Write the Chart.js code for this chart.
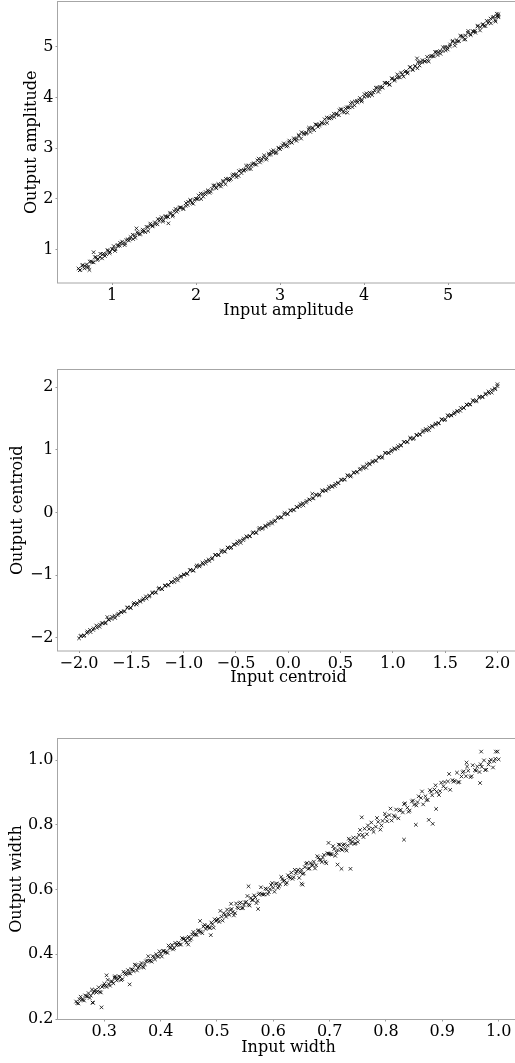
<!DOCTYPE html>
<html><head><meta charset="utf-8">
<script src="https://cdn.jsdelivr.net/npm/chart.js@4/dist/chart.umd.min.js"></script>
<style>
html,body{margin:0;padding:0;background:#fff;overflow:hidden;width:515px;height:1063px;position:relative;}
canvas{position:absolute;left:0;}
</style></head><body>
<canvas id="c1" width="525" height="350" style="top:-20px"></canvas>
<canvas id="c2" width="525" height="350" style="top:340px"></canvas>
<canvas id="c3" width="525" height="363" style="top:700px"></canvas>
<script>
// ---------- Data ----------
const ampXTicks = [1, 2, 3, 4, 5];
const ampYTicks = [1, 2, 3, 4, 5];
const ampIn = [0.60,0.62,0.65,0.67,0.70,0.72,0.73,0.75,0.78,0.78,0.81,0.83,0.86,0.88,0.90,0.93,0.95,0.97,1.00,1.02,1.04,1.07,1.09,1.12,1.15,1.17,1.20,1.22,1.25,1.27,1.29,1.30,1.33,1.36,1.38,1.41,1.43,1.46,1.48,1.51,1.54,1.56,1.59,1.61,1.64,1.67,1.66,1.69,1.72,1.74,1.77,1.80,1.82,1.85,1.88,1.90,1.93,1.95,1.98,2.01,2.03,2.06,2.08,2.11,2.14,2.16,2.19,2.22,2.24,2.27,2.30,2.32,2.35,2.38,2.40,2.43,2.46,2.48,2.51,2.54,2.57,2.59,2.62,2.65,2.67,2.70,2.73,2.76,2.78,2.81,2.84,2.87,2.89,2.92,2.95,2.98,3.00,3.03,3.06,3.09,3.11,3.14,3.17,3.20,3.22,3.25,3.28,3.31,3.34,3.36,3.39,3.42,3.45,3.47,3.50,3.53,3.56,3.58,3.61,3.64,3.67,3.70,3.72,3.75,3.78,3.80,3.81,3.84,3.86,3.89,3.92,3.95,3.97,4.00,4.03,4.06,4.08,4.11,4.14,4.17,4.19,4.22,4.25,4.28,4.30,4.33,4.36,4.39,4.41,4.44,4.47,4.50,4.52,4.55,4.58,4.61,4.63,4.64,4.66,4.69,4.72,4.75,4.77,4.80,4.83,4.86,4.88,4.91,4.94,4.97,4.99,5.02,5.05,5.08,5.10,5.13,5.16,5.19,5.21,5.24,5.27,5.30,5.32,5.35,5.38,5.41,5.43,5.46,5.49,5.51,5.54,5.56,5.58,5.60,5.60];
const ampOut = [0.63,0.60,0.70,0.63,0.71,0.66,0.60,0.77,0.95,0.75,0.85,0.82,0.92,0.83,0.92,0.91,0.98,0.93,1.01,1.07,1.01,1.07,1.08,1.16,1.09,1.19,1.18,1.25,1.21,1.28,1.42,1.35,1.30,1.36,1.37,1.45,1.37,1.48,1.46,1.54,1.50,1.57,1.64,1.58,1.64,1.52,1.65,1.73,1.66,1.76,1.75,1.83,1.83,1.80,1.92,1.88,1.98,1.92,1.98,2.00,2.07,2.00,2.10,2.09,2.17,2.12,2.20,2.27,2.21,2.27,2.29,2.36,2.29,2.40,2.38,2.46,2.47,2.43,2.55,2.51,2.57,2.58,2.66,2.59,2.69,2.68,2.76,2.72,2.79,2.86,2.81,2.87,2.88,2.96,2.90,3.00,2.98,3.06,3.07,3.05,3.15,3.11,3.17,3.19,3.26,3.19,3.30,3.29,3.37,3.32,3.40,3.47,3.42,3.47,3.49,3.57,3.50,3.60,3.59,3.68,3.68,3.65,3.77,3.72,3.78,3.70,3.80,3.88,3.81,3.92,3.90,3.99,3.92,4.01,4.08,4.03,4.08,4.10,4.19,4.11,4.21,4.20,4.29,4.29,4.25,4.38,4.33,4.39,4.40,4.49,4.41,4.52,4.50,4.60,4.54,4.62,4.77,4.70,4.63,4.69,4.71,4.80,4.71,4.82,4.81,4.90,4.89,4.86,4.99,4.93,4.99,5.01,5.10,5.02,5.13,5.11,5.21,5.14,5.22,5.31,5.23,5.30,5.31,5.40,5.32,5.43,5.41,5.51,5.50,5.46,5.59,5.52,5.60,5.64,5.58];
const ampIn2 = [0.615,0.645,0.675,0.705,0.735,0.765,0.795,0.825,0.855,0.885,0.915,0.945,0.975,1.005,1.035,1.065,1.095,1.125,1.155,1.185,1.215,1.245,1.275,1.305,1.335,1.365,1.395,1.425,1.455,1.485,1.515,1.545,1.575,1.605,1.635,1.665,1.695,1.725,1.755,1.785,1.815,1.845,1.875,1.905,1.935,1.965,1.995,2.025,2.055,2.085,2.115,2.145,2.175,2.205,2.235,2.265,2.295,2.325,2.355,2.385,2.415,2.445,2.475,2.505,2.535,2.565,2.595,2.625,2.655,2.685,2.715,2.745,2.775,2.805,2.835,2.865,2.895,2.925,2.955,2.985,3.015,3.045,3.075,3.105,3.135,3.165,3.195,3.225,3.255,3.285,3.315,3.345,3.375,3.405,3.435,3.465,3.495,3.525,3.555,3.585,3.615,3.645,3.675,3.705,3.735,3.765,3.795,3.825,3.855,3.885,3.915,3.945,3.975,4.005,4.035,4.065,4.095,4.125,4.155,4.185,4.215,4.245,4.275,4.305,4.335,4.365,4.395,4.425,4.455,4.485,4.515,4.545,4.575,4.605,4.635,4.665,4.695,4.725,4.755,4.785,4.815,4.845,4.875,4.905,4.935,4.965,4.995,5.025,5.055,5.085,5.115,5.145,5.175,5.205,5.235,5.265,5.295,5.325,5.355,5.385,5.415,5.445,5.475,5.505,5.535,5.565,5.595,5.580];
const ampOut2 = [0.595,0.685,0.685,0.655,0.765,0.755,0.855,0.795,0.855,0.905,0.875,0.995,0.955,1.015,0.975,1.095,1.135,1.115,1.125,1.205,1.215,1.295,1.235,1.315,1.315,1.395,1.345,1.445,1.515,1.475,1.505,1.605,1.595,1.555,1.665,1.645,1.705,1.685,1.805,1.785,1.835,1.815,1.865,1.945,1.965,1.905,2.005,2.005,2.105,2.045,2.135,2.145,2.145,2.265,2.225,2.295,2.245,2.335,2.395,2.365,2.395,2.485,2.485,2.455,2.565,2.555,2.655,2.595,2.655,2.705,2.675,2.795,2.755,2.815,2.775,2.895,2.935,2.915,2.925,3.005,3.015,3.095,3.035,3.115,3.115,3.195,3.145,3.245,3.315,3.275,3.305,3.405,3.395,3.355,3.465,3.445,3.505,3.485,3.605,3.585,3.635,3.615,3.665,3.745,3.765,3.705,3.805,3.805,3.905,3.845,3.935,3.945,3.945,4.065,4.025,4.095,4.045,4.135,4.195,4.165,4.195,4.285,4.285,4.255,4.365,4.355,4.455,4.395,4.455,4.505,4.475,4.595,4.555,4.615,4.575,4.695,4.735,4.715,4.725,4.805,4.815,4.895,4.835,4.915,4.915,4.995,4.945,5.045,5.115,5.075,5.105,5.215,5.195,5.145,5.275,5.245,5.305,5.275,5.415,5.385,5.445,5.405,5.465,5.555,5.575,5.495,5.605,5.650];

const cenXTicks = [-2, -1.5, -1, -0.5, 0, 0.5, 1, 1.5, 2];
const cenYTicks = [-2, -1, 0, 1, 2];
const cenIn = [-2.00,-1.98,-1.95,-1.92,-1.89,-1.86,-1.83,-1.80,-1.78,-1.75,-1.73,-1.72,-1.69,-1.66,-1.63,-1.60,-1.57,-1.54,-1.51,-1.48,-1.45,-1.42,-1.39,-1.36,-1.33,-1.30,-1.27,-1.24,-1.21,-1.18,-1.15,-1.12,-1.09,-1.06,-1.03,-1.00,-0.97,-0.94,-0.91,-0.88,-0.85,-0.82,-0.79,-0.76,-0.73,-0.70,-0.67,-0.64,-0.61,-0.58,-0.55,-0.52,-0.49,-0.46,-0.43,-0.40,-0.37,-0.34,-0.31,-0.28,-0.25,-0.22,-0.19,-0.16,-0.13,-0.10,-0.07,-0.04,-0.01,0.02,0.05,0.08,0.11,0.14,0.17,0.20,0.23,0.24,0.27,0.30,0.33,0.36,0.39,0.42,0.45,0.48,0.51,0.54,0.57,0.60,0.63,0.66,0.69,0.72,0.75,0.78,0.81,0.84,0.87,0.90,0.93,0.96,0.99,1.02,1.05,1.08,1.11,1.14,1.17,1.20,1.23,1.26,1.29,1.32,1.35,1.38,1.41,1.44,1.47,1.50,1.53,1.56,1.59,1.62,1.65,1.68,1.71,1.74,1.77,1.80,1.83,1.86,1.89,1.92,1.95,1.98,2.00,2.00];
const cenOut = [-2.01,-1.97,-1.96,-1.90,-1.91,-1.85,-1.84,-1.79,-1.77,-1.77,-1.67,-1.71,-1.70,-1.65,-1.64,-1.59,-1.58,-1.52,-1.52,-1.47,-1.47,-1.41,-1.40,-1.34,-1.34,-1.29,-1.28,-1.22,-1.22,-1.17,-1.16,-1.11,-1.11,-1.05,-1.03,-0.99,-0.98,-0.92,-0.93,-0.87,-0.86,-0.80,-0.81,-0.75,-0.74,-0.68,-0.68,-0.63,-0.62,-0.56,-0.57,-0.51,-0.50,-0.45,-0.44,-0.38,-0.38,-0.33,-0.32,-0.27,-0.26,-0.21,-0.20,-0.15,-0.14,-0.09,-0.08,-0.03,-0.02,0.03,0.04,0.09,0.10,0.15,0.16,0.21,0.30,0.23,0.28,0.29,0.34,0.35,0.41,0.41,0.46,0.47,0.52,0.53,0.59,0.59,0.64,0.65,0.70,0.71,0.77,0.77,0.82,0.83,0.88,0.89,0.95,0.95,1.00,1.01,1.06,1.07,1.13,1.13,1.18,1.19,1.24,1.25,1.31,1.31,1.36,1.37,1.42,1.43,1.49,1.49,1.54,1.55,1.60,1.61,1.67,1.67,1.72,1.73,1.78,1.79,1.85,1.85,1.90,1.91,1.96,1.97,2.02,2.05];
const cenIn2 = [-1.985,-1.955,-1.925,-1.895,-1.865,-1.835,-1.805,-1.775,-1.745,-1.715,-1.685,-1.655,-1.625,-1.595,-1.565,-1.535,-1.505,-1.475,-1.445,-1.415,-1.385,-1.355,-1.325,-1.295,-1.265,-1.235,-1.205,-1.175,-1.145,-1.115,-1.085,-1.055,-1.025,-0.995,-0.965,-0.935,-0.905,-0.875,-0.845,-0.815,-0.785,-0.755,-0.725,-0.695,-0.665,-0.635,-0.605,-0.575,-0.545,-0.515,-0.485,-0.455,-0.425,-0.395,-0.365,-0.335,-0.305,-0.275,-0.245,-0.215,-0.185,-0.155,-0.125,-0.095,-0.065,-0.035,-0.005,0.025,0.055,0.085,0.115,0.145,0.175,0.205,0.235,0.265,0.295,0.325,0.355,0.385,0.415,0.445,0.475,0.505,0.535,0.565,0.595,0.625,0.655,0.685,0.715,0.745,0.775,0.805,0.835,0.865,0.895,0.925,0.955,0.985,1.015,1.045,1.075,1.105,1.135,1.165,1.195,1.225,1.255,1.285,1.315,1.345,1.375,1.405,1.435,1.465,1.495,1.525,1.555,1.585,1.615,1.645,1.675,1.705,1.735,1.765,1.795,1.825,1.855,1.885,1.915,1.945,1.975];
const cenOut2 = [-1.975,-1.975,-1.925,-1.875,-1.875,-1.805,-1.825,-1.765,-1.755,-1.715,-1.665,-1.685,-1.615,-1.595,-1.575,-1.515,-1.525,-1.445,-1.445,-1.425,-1.375,-1.375,-1.325,-1.275,-1.275,-1.205,-1.225,-1.165,-1.155,-1.115,-1.065,-1.085,-1.015,-0.995,-0.975,-0.915,-0.925,-0.845,-0.845,-0.825,-0.775,-0.775,-0.725,-0.675,-0.675,-0.605,-0.625,-0.565,-0.555,-0.515,-0.465,-0.485,-0.415,-0.395,-0.375,-0.315,-0.325,-0.245,-0.245,-0.225,-0.175,-0.175,-0.125,-0.075,-0.075,-0.005,-0.025,0.035,0.045,0.085,0.135,0.115,0.185,0.205,0.225,0.285,0.275,0.355,0.355,0.375,0.425,0.425,0.475,0.525,0.525,0.595,0.575,0.635,0.645,0.685,0.735,0.715,0.785,0.805,0.825,0.885,0.875,0.955,0.955,0.975,1.025,1.025,1.075,1.125,1.125,1.195,1.175,1.235,1.245,1.285,1.335,1.315,1.385,1.405,1.425,1.485,1.475,1.555,1.555,1.575,1.625,1.625,1.675,1.725,1.725,1.795,1.775,1.835,1.845,1.885,1.935,1.915,1.985];

const widXTicks = [0.3, 0.4, 0.5, 0.6, 0.7, 0.8, 0.9, 1.0];
const widYTicks = [0.2, 0.4, 0.6, 0.8, 1.0];
const widIn = [0.250,0.254,0.258,0.262,0.266,0.270,0.274,0.278,0.282,0.286,0.290,0.294,0.298,0.302,0.306,0.310,0.314,0.318,0.322,0.326,0.330,0.334,0.338,0.342,0.346,0.350,0.354,0.358,0.362,0.366,0.370,0.374,0.378,0.382,0.386,0.390,0.394,0.398,0.402,0.406,0.410,0.414,0.418,0.422,0.426,0.430,0.434,0.438,0.442,0.446,0.450,0.454,0.458,0.462,0.466,0.470,0.474,0.478,0.482,0.486,0.490,0.494,0.498,
 0.502,0.506,0.510,0.514,0.518,0.522,0.526,0.530,0.534,0.538,0.542,0.546,0.550,0.554,0.558,0.562,0.566,0.570,0.574,0.578,0.582,0.586,0.590,0.594,0.598,0.602,0.606,0.610,0.614,0.618,0.622,0.626,0.630,0.634,0.638,0.642,0.646,0.650,0.654,0.658,0.662,0.666,0.670,0.674,0.678,0.682,0.686,0.690,0.694,0.698,0.702,0.706,0.710,0.714,0.718,0.722,0.726,0.730,0.734,0.738,0.742,0.746,
 0.750,0.754,0.758,0.762,0.766,0.770,0.774,0.778,0.782,0.786,0.790,0.794,0.798,0.802,0.806,0.810,0.814,0.818,0.822,0.826,0.830,0.834,0.838,0.842,0.846,0.850,0.854,0.858,0.862,0.866,0.870,0.874,0.878,0.882,0.886,0.890,0.894,0.898,0.902,0.906,0.910,0.914,0.918,0.922,0.926,0.930,0.934,0.938,0.942,0.946,0.950,0.954,0.958,0.962,0.966,0.970,0.974,0.978,0.982,0.986,0.990,0.994,0.998,1.000,
 0.295,0.304,0.345,0.279,0.449,0.489,0.556,0.573,0.652,0.721,0.737,0.757,0.832,0.853,0.883,0.876,0.969,0.995,0.714,0.698,0.650,0.889,0.943,0.967,0.525,0.470,0.319,0.280];
const widOut = [0.254,0.248,0.269,0.260,0.273,0.270,0.265,0.291,0.285,0.282,0.298,0.282,0.303,0.303,0.321,0.303,0.316,0.328,0.319,0.332,0.320,0.346,0.337,0.351,0.341,0.353,0.368,0.350,0.362,0.373,0.359,0.378,0.394,0.380,0.394,0.384,0.395,0.409,0.393,0.411,0.407,0.427,0.420,0.415,0.435,0.430,0.430,0.450,0.448,0.436,0.454,0.448,0.469,0.460,0.473,0.470,0.465,0.491,0.485,0.482,0.498,0.482,0.503,
 0.509,0.534,0.504,0.522,0.538,0.522,0.540,0.520,0.557,0.542,0.560,0.543,0.560,0.580,0.551,0.567,0.582,0.558,0.585,0.607,0.584,0.603,0.586,0.601,0.620,0.593,0.619,0.610,0.639,0.626,0.616,0.644,0.635,0.633,0.661,0.656,0.636,0.661,0.650,0.680,0.664,0.682,0.675,0.665,0.703,0.692,0.685,0.707,0.681,0.711,0.709,0.734,0.704,0.722,0.738,0.722,0.740,0.720,0.757,0.742,0.760,0.743,
 0.747,0.784,0.769,0.788,0.771,0.787,0.807,0.778,0.794,0.809,0.785,0.812,0.834,0.811,0.830,0.813,0.828,0.847,0.820,0.846,0.838,0.866,0.853,0.844,0.872,0.862,0.860,0.888,0.883,0.863,0.888,0.877,0.907,0.891,0.909,0.902,0.892,0.930,0.919,0.912,0.934,0.908,0.938,0.936,0.961,0.932,0.949,0.965,0.950,0.967,0.947,0.984,0.969,0.980,0.963,0.979,0.999,0.970,0.986,1.001,0.977,1.004,1.026,1.002,
 0.236,0.335,0.307,0.251,0.430,0.459,0.610,0.540,0.615,0.664,0.664,0.823,0.754,0.800,0.803,0.815,1.026,1.026,0.677,0.744,0.618,0.849,0.992,0.929,0.556,0.503,0.332,0.250];
const widIn2 = [0.252,0.256,0.260,0.264,0.268,0.272,0.276,0.280,0.284,0.288,0.292,0.296,0.300,0.304,0.308,0.312,0.316,0.320,0.324,0.328,0.332,0.336,0.340,0.344,0.348,0.352,0.356,0.360,0.364,0.368,0.372,0.376,0.380,0.384,0.388,0.392,0.396,0.400,0.404,0.408,0.412,0.416,0.420,0.424,0.428,0.432,0.436,0.440,0.444,0.448,0.452,0.456,0.460,0.464,0.468,0.472,0.476,0.480,0.484,0.488,0.492,0.496,0.500,0.504,0.508,0.512,0.516,0.520,0.524,0.528,0.532,0.536,0.540,0.544,0.548,0.552,0.556,0.560,0.564,0.568,0.572,0.576,0.580,0.584,0.588,0.592,0.596,
 0.600,0.604,0.608,0.612,0.616,0.620,0.624,0.628,0.632,0.636,0.640,0.644,0.648,0.652,0.656,0.660,0.664,0.668,0.672,0.676,0.680,0.684,0.688,0.692,0.696,0.700,0.704,0.708,0.712,0.716,0.720,0.724,0.728,0.732,0.736,0.740,0.744,0.748,
 0.752,0.760,0.768,0.776,0.784,0.792,0.800,0.808,0.816,0.824,0.832,0.840,0.848,0.856,0.864,0.872,0.880,0.888,0.896,0.904,0.912,0.920,0.928,0.936,0.944,0.952,0.960,0.968,0.976,0.984,0.992];
const widOut2 = [0.249,0.261,0.260,0.257,0.270,0.280,0.272,0.281,0.290,0.286,0.284,0.299,0.309,0.299,0.308,0.316,0.310,0.327,0.323,0.330,0.323,0.341,0.341,0.341,0.354,0.348,0.366,0.358,0.367,0.361,0.369,0.381,0.380,0.377,0.390,0.400,0.392,0.401,0.410,0.406,0.404,0.419,0.429,0.419,0.428,0.436,0.430,0.447,0.443,0.450,0.443,0.461,0.461,0.461,0.474,0.468,0.486,0.478,0.487,0.481,0.493,0.508,0.505,0.500,0.516,0.527,0.516,0.526,0.537,0.530,0.527,0.545,0.557,0.542,0.553,0.562,0.553,0.574,0.568,0.576,0.565,0.588,0.586,0.585,0.601,0.592,0.614,
 0.605,0.617,0.605,0.616,0.632,0.628,0.621,0.639,0.652,0.638,0.650,0.661,0.653,0.648,0.669,0.682,0.665,0.676,0.686,0.675,0.699,0.691,0.699,0.686,0.712,0.710,0.708,0.725,0.714,0.739,0.725,0.737,0.725,0.736,0.752,0.748,0.741,0.759,
 0.769,0.762,0.798,0.788,0.821,0.798,0.824,0.850,0.825,0.844,0.864,0.840,0.875,0.870,0.903,0.876,0.902,0.922,0.904,0.932,0.957,0.933,0.931,0.962,0.980,0.950,0.967,0.987,0.969,0.995,0.996];

// ---------- Helpers ----------
function fmt(v, d) {
  const s = Math.abs(v).toFixed(d);
  return (v < -1e-9 ? '\u2212' : '') + s;
}
function pairs(xs, ys) {
  const out = [];
  const n = Math.min(xs.length, ys.length);
  for (let i = 0; i < n; i++) out.push({x: xs[i], y: ys[i]});
  return out;
}
const FONT = {family: 'DejaVu Serif', size: 16};
const frame = {
  id: 'frame',
  afterDatasetsDraw(chart) {
    const a = chart.chartArea, c = chart.ctx;
    c.save();
    c.strokeStyle = '#a6a6a6';
    c.lineWidth = 1;
    c.strokeRect(a.left, a.top, a.right - a.left, a.bottom - a.top);
    c.restore();
  }
};

function make(id, pts, cfg) {
  return new Chart(document.getElementById(id), {
    type: 'scatter',
    data: {datasets: [{
      data: pts, pointStyle: 'crossRot', pointRadius: 2.5, borderWidth: 1,
      borderColor: 'rgba(0,0,0,0.78)', backgroundColor: 'rgba(0,0,0,0.78)'
    }]},
    options: {
      responsive: false, animation: false, devicePixelRatio: 1,
      layout: {padding: {left: 0, right: 5.5, top: cfg.top, bottom: 0}},
      plugins: {legend: {display: false}, tooltip: {enabled: false}},
      scales: {
        x: {
          type: 'linear', position: 'bottom', min: cfg.xmin, max: cfg.xmax,
          afterBuildTicks: s => { s.ticks = cfg.xt.map(v => ({value: v})); },
          afterFit: s => { s.height = cfg.xh; s.paddingLeft = 0; s.paddingRight = 0; },
          grid: {drawOnChartArea: false, drawTicks: true, tickLength: 2, tickColor: '#999', tickWidth: 1},
          border: {display: false},
          ticks: {autoSkip: false, maxRotation: 0, padding: 1, color: '#000', font: FONT,
                  callback: v => fmt(v, cfg.xd)},
          title: {display: true, text: cfg.xl, color: '#000', font: FONT,
                  padding: {top: 0, bottom: cfg.xtp}}
        },
        y: {
          type: 'linear', position: 'left', min: cfg.ymin, max: cfg.ymax,
          afterBuildTicks: s => { s.ticks = cfg.yt.map(v => ({value: v})); },
          afterFit: s => { s.width = 57.5; s.paddingTop = 0; s.paddingBottom = 0; },
          grid: {drawOnChartArea: false, drawTicks: true, tickLength: 2, tickColor: '#999', tickWidth: 1},
          border: {display: false},
          ticks: {autoSkip: false, padding: 2, color: '#000', font: FONT,
                  callback: v => fmt(v, cfg.yd)},
          title: {display: true, text: cfg.yl, color: '#000', font: FONT,
                  padding: {top: cfg.ytp, bottom: 0}}
        }
      }
    },
    plugins: [frame]
  });
}

make('c1', pairs(ampIn, ampOut).concat(pairs(ampIn2, ampOut2)), {
  top: 21.5, xh: 47, xmin: 0.35, xmax: 5.85, ymin: 0.344, ymax: 5.891,
  xt: ampXTicks, yt: ampYTicks, xd: 0, yd: 0,
  xl: 'Input amplitude', yl: 'Output amplitude', xtp: 9.4, ytp: 22.4
});
make('c2', pairs(cenIn, cenOut).concat(pairs(cenIn2, cenOut2)), {
  top: 29.5, xh: 39, xmin: -2.206, xmax: 2.211, ymin: -2.212, ymax: 2.285,
  xt: cenXTicks, yt: cenYTicks, xd: 1, yd: 0,
  xl: 'Input centroid', yl: 'Output centroid', xtp: 2.9, ytp: 8.4
});
make('c3', pairs(widIn, widOut).concat(pairs(widIn2, widOut2)), {
  top: 38.5, xh: 43.5, xmin: 0.2169, xmax: 1.037, ymin: 0.1985, ymax: 1.0665,
  xt: widXTicks, yt: widYTicks, xd: 1, yd: 1,
  xl: 'Input width', yl: 'Output width', xtp: 5.9, ytp: 7.4
});
</script>
</body></html>
